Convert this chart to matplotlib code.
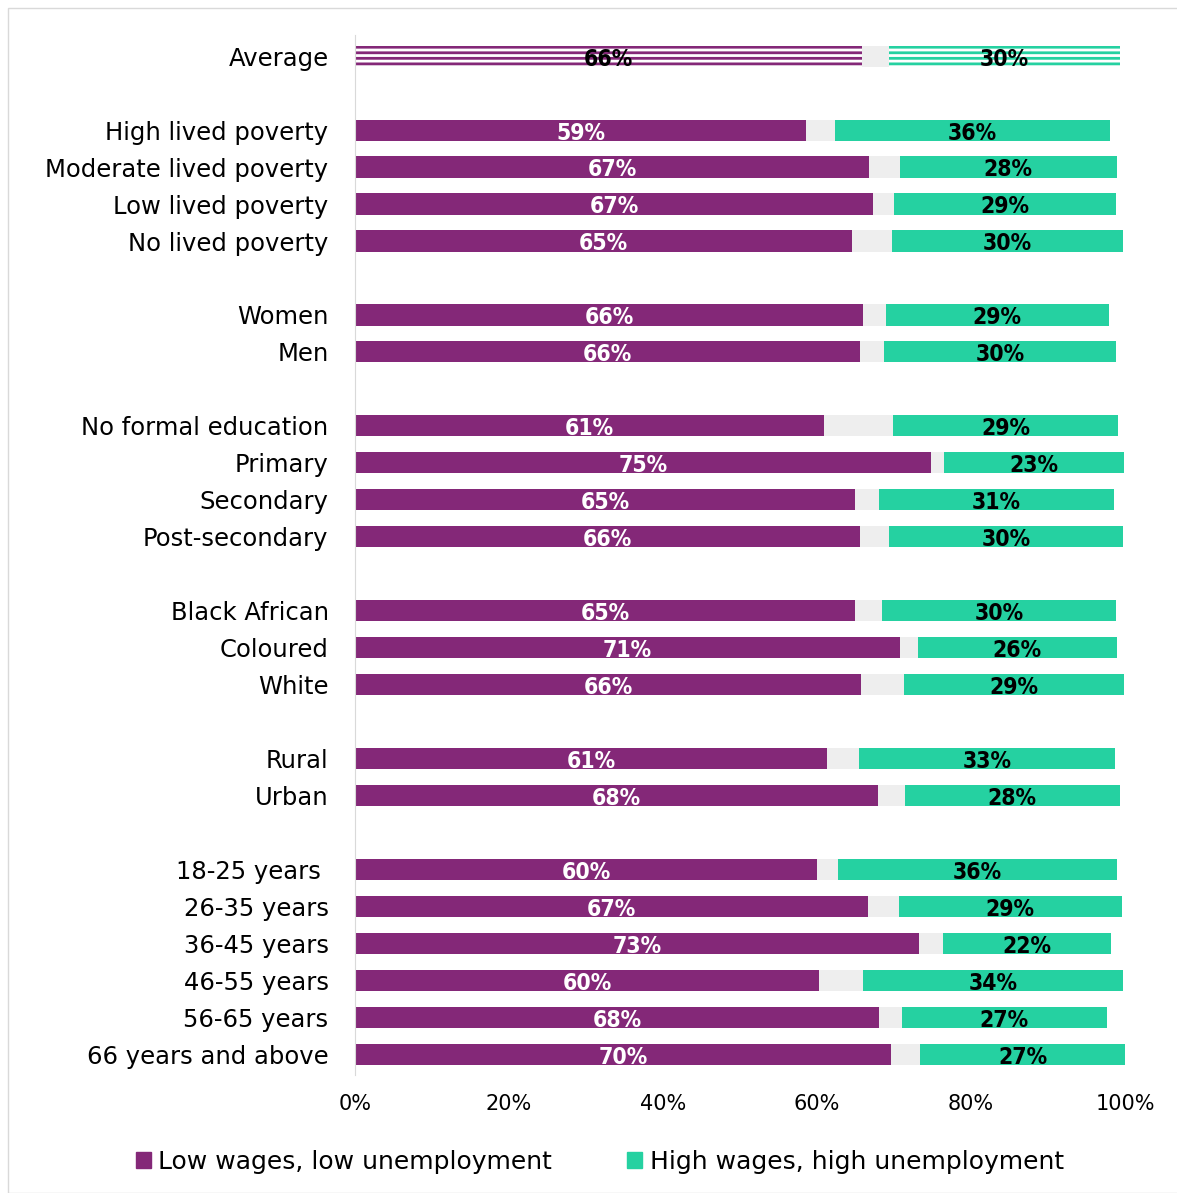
import matplotlib.pyplot as plt
import matplotlib.patches as mpatches

# Categories top to bottom, None = blank spacer row
categories = [
    "Average", None,
    "High lived poverty", "Moderate lived poverty", "Low lived poverty", "No lived poverty", None,
    "Women", "Men", None,
    "No formal education", "Primary", "Secondary", "Post-secondary", None,
    "Black African", "Coloured", "White", None,
    "Rural", "Urban", None,
    "18-25 years ", "26-35 years", "36-45 years", "46-55 years", "56-65 years", "66 years and above",
]

# shares (%) per category, same order (spacers skipped)
low_wages = [65.8, 58.6, 66.8, 67.3, 64.6, 66.0, 65.6, 60.9, 74.8, 64.9, 65.6,
             64.9, 70.8, 65.7, 61.3, 67.9, 60.0, 66.6, 73.2, 60.3, 68.1, 69.6]
dont_know = [3.6, 3.8, 4.0, 2.7, 5.1, 2.9, 3.1, 9.0, 1.7, 3.1, 3.8,
             3.6, 2.3, 5.6, 4.2, 3.5, 2.7, 4.0, 3.1, 5.7, 2.9, 3.8]
high_wages = [29.9, 35.6, 28.1, 28.8, 30.0, 29.0, 30.1, 29.2, 23.4, 30.6, 30.3,
              30.3, 25.8, 28.6, 33.2, 27.9, 36.2, 29.0, 21.9, 33.8, 26.6, 26.6]

purple = "#842878"
teal = "#25D1A1"
grey = "#EEEEEE"

plt.rcParams["hatch.linewidth"] = 2.0

fig = plt.figure(figsize=(11.77, 11.93), dpi=100)
fig.patches.append(mpatches.Rectangle((8 / 1177, 0), 1, 1 - 8 / 1193, transform=fig.transFigure,
                                      fill=False, edgecolor="#D9D9D9", linewidth=1))
ax = fig.add_axes([355 / 1177, 1 - 1075 / 1193, 770 / 1177, 1040 / 1193])

ypos = [i for i, c in enumerate(categories) if c is not None]
labels = [c for c in categories if c is not None]
h = 0.57

for k, y in enumerate(ypos):
    lw, dk, hw = low_wages[k], dont_know[k], high_wages[k]
    if k == 0:
        ax.barh(y, lw, height=h, color="white", edgecolor=purple, hatch="---", linewidth=0)
        ax.barh(y, dk, left=lw, height=h, color=grey, linewidth=0)
        ax.barh(y, hw, left=lw + dk, height=h, color="white", edgecolor=teal, hatch="---", linewidth=0)
        c1 = "black"
    else:
        ax.barh(y, lw, height=h, color=purple, linewidth=0)
        ax.barh(y, dk, left=lw, height=h, color=grey, linewidth=0)
        ax.barh(y, hw, left=lw + dk, height=h, color=teal, linewidth=0)
        c1 = "white"
    ax.text(lw / 2, y + 0.08, f"{lw:.0f}%", ha="center", va="center", color=c1,
            fontsize=16.5, fontweight="bold", fontstretch="condensed")
    ax.text(lw + dk + hw / 2, y + 0.08, f"{hw:.0f}%", ha="center", va="center", color="black",
            fontsize=16.5, fontweight="bold", fontstretch="condensed")

ax.set_xlim(0, 100)
ax.set_ylim(len(categories) - 0.45, -0.57)
ax.set_yticks(ypos)
ax.set_yticklabels(labels, fontsize=17.5)
ax.set_xticks(range(0, 101, 20))
ax.set_xticklabels([f"{v}%" for v in range(0, 101, 20)], fontsize=15)
ax.tick_params(length=0, pad=19, axis="y")
ax.tick_params(length=0, pad=14, axis="x")
for s in ["top", "right", "bottom"]:
    ax.spines[s].set_visible(False)
ax.spines["left"].set_color("#D9D9D9")

handles = [mpatches.Patch(color=purple, label="Low wages, low unemployment"),
           mpatches.Patch(color=teal, label="High wages, high unemployment")]
fig.legend(handles=handles, loc="center", bbox_to_anchor=(600 / 1177, 1 - 1162 / 1193), ncol=2,
           frameon=False, fontsize=18, handlelength=0.6, handleheight=0.6, handletextpad=0.3,
           columnspacing=3.0)

fig.savefig("out.png", dpi=100)
